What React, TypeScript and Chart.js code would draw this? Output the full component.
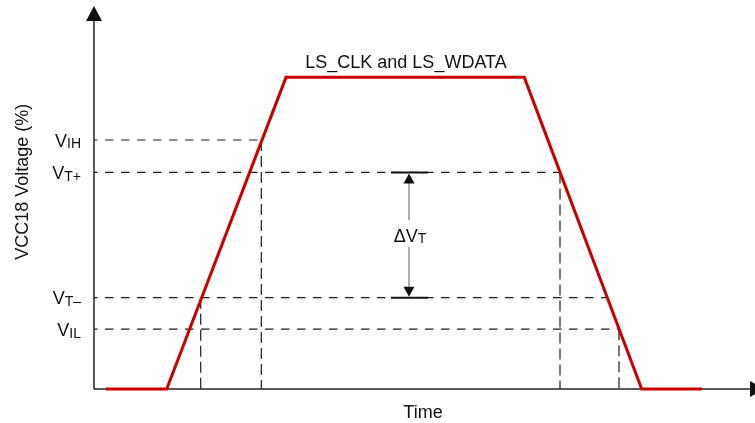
import React, { useEffect, useRef } from "react";
import { Chart, registerables } from "chart.js";

Chart.register(...registerables);

// Waveform (time in arbitrary units, voltage in % of VCC18)
const timePoints = [1.2, 7.27, 19.2, 43.03, 54.77, 60.77];
const voltagePct = [0, 0, 100, 100, 0, 0];

// Threshold levels
const thresholdMain = ["V", "V", "V", "V"];
const thresholdSub = ["IH", "T+", "T\u2013", "IL"];
const thresholdPct = [79.9, 69.5, 29.3, 19.2];
// where each horizontal dashed guide ends (time)
const thresholdEnd = [16.73, 46.6, 51.2, 52.5];
// vertical dashed guides: time and the level they drop from
const crossTime = [10.67, 16.73, 46.6, 52.5];
const crossPct = [29.3, 79.9, 69.5, 19.2];

// Hysteresis marker
const deltaTime = 31.5;
const deltaTickFrom = 29.7;
const deltaTickTo = 33.4;

const xMax = 66;
const yMax = 122.9;
const xAxisEnd = 65.6;
const yAxisEnd = 118.1;

const titleText = "LS_CLK and LS_WDATA";
const xTitle = "Time";
const yTitle = "VCC18 Voltage (%)";

const FONT = "'Liberation Sans', Arial, Helvetica, sans-serif";
const TXT = "#111";

export default function App() {
  const ref = useRef<HTMLCanvasElement | null>(null);
  useEffect(() => {
    if (!ref.current) return;
    const datasets: any[] = [];
    datasets.push({
      data: timePoints.map((t, i) => ({ x: t, y: voltagePct[i] })),
      showLine: true,
      borderColor: "#c80000",
      borderWidth: 3,
      pointRadius: 0,
      clip: false,
      borderJoinStyle: "miter",
    });
    thresholdPct.forEach((v, i) => {
      datasets.push({
        data: [
          { x: 0, y: v },
          { x: thresholdEnd[i], y: v },
        ],
        showLine: true,
        borderColor: "#1a1a1a",
        borderWidth: 1.2,
        borderDash: [8.5, 7.5],
        borderDashOffset: 5,
        pointRadius: 0,
        clip: false,
      });
    });
    crossTime.forEach((t, i) => {
      datasets.push({
        data: [
          { x: t, y: crossPct[i] },
          { x: t, y: 0 },
        ],
        showLine: true,
        borderColor: "#1a1a1a",
        borderWidth: 1.2,
        borderDash: [11, 5],
        pointRadius: 0,
        clip: false,
      });
    });
    [thresholdPct[1], thresholdPct[2]].forEach((v) => {
      datasets.push({
        data: [
          { x: deltaTickFrom, y: v },
          { x: deltaTickTo, y: v },
        ],
        showLine: true,
        borderColor: "#111",
        borderWidth: 2,
        pointRadius: 0,
        clip: false,
      });
    });
    // axes
    datasets.push({
      data: [
        { x: 0, y: 0 },
        { x: xAxisEnd, y: 0 },
      ],
      showLine: true,
      borderColor: "#222",
      borderWidth: 1.5,
      pointRadius: 0,
      clip: false,
    });
    datasets.push({
      data: [
        { x: 0, y: 0 },
        { x: 0, y: yAxisEnd },
      ],
      showLine: true,
      borderColor: "#222",
      borderWidth: 1.5,
      pointRadius: 0,
      clip: false,
    });

    const deco = {
      id: "deco",
      afterDatasetsDraw(chart: any) {
        const ctx = chart.ctx;
        const xs = chart.scales.x;
        const ys = chart.scales.y;
        ctx.save();
        // axis arrowheads
        ctx.fillStyle = "#111";
        const x0 = xs.getPixelForValue(0);
        const y0 = ys.getPixelForValue(0);
        const yTop = ys.getPixelForValue(yMax);
        const yBase = ys.getPixelForValue(yAxisEnd);
        ctx.beginPath();
        ctx.moveTo(x0, yTop);
        ctx.lineTo(x0 - 8, yBase);
        ctx.lineTo(x0 + 8, yBase);
        ctx.closePath();
        ctx.fill();
        const xBase = xs.getPixelForValue(xAxisEnd);
        ctx.beginPath();
        ctx.moveTo(xBase + 15, y0);
        ctx.lineTo(xBase, y0 - 8);
        ctx.lineTo(xBase, y0 + 8);
        ctx.closePath();
        ctx.fill();

        // delta arrow
        const ax = xs.getPixelForValue(deltaTime);
        const aTop = ys.getPixelForValue(thresholdPct[1]);
        const aBot = ys.getPixelForValue(thresholdPct[2]);
        const mid = (aTop + aBot) / 2;
        ctx.strokeStyle = "#777";
        ctx.lineWidth = 1.2;
        ctx.beginPath();
        ctx.moveTo(ax, aTop + 10);
        ctx.lineTo(ax, mid - 15);
        ctx.moveTo(ax, mid + 12);
        ctx.lineTo(ax, aBot - 10);
        ctx.stroke();
        ctx.fillStyle = "#111";
        ctx.beginPath();
        ctx.moveTo(ax, aTop + 1);
        ctx.lineTo(ax - 5.5, aTop + 11);
        ctx.lineTo(ax + 5.5, aTop + 11);
        ctx.closePath();
        ctx.fill();
        ctx.beginPath();
        ctx.moveTo(ax, aBot - 1);
        ctx.lineTo(ax - 5.5, aBot - 11);
        ctx.lineTo(ax + 5.5, aBot - 11);
        ctx.closePath();
        ctx.fill();

        // texts
        ctx.fillStyle = TXT;
        const drawSub = (main: string, sub: string, x: number, cy: number, align: string) => {
          ctx.font = `18px ${FONT}`;
          const wm = ctx.measureText(main).width;
          ctx.font = `14px ${FONT}`;
          const ws = ctx.measureText(sub).width;
          const total = wm + ws;
          let left = x;
          if (align === "right") left = x - total;
          else if (align === "center") left = x - total / 2;
          ctx.textAlign = "left";
          ctx.textBaseline = "alphabetic";
          ctx.font = `18px ${FONT}`;
          ctx.fillText(main, left, cy + 6.6);
          ctx.font = `14px ${FONT}`;
          ctx.fillText(sub, left + wm, cy + 8.4);
        };
        thresholdPct.forEach((v, i) => {
          drawSub(thresholdMain[i], thresholdSub[i], 81, ys.getPixelForValue(v), "right");
        });
        drawSub("\u0394V", "T", ax + 1, mid, "center");

        ctx.font = `18px ${FONT}`;
        ctx.textAlign = "center";
        ctx.textBaseline = "alphabetic";
        ctx.fillText(titleText, 406, 67.7);
        ctx.fillText(xTitle, 423, 418);
        ctx.translate(27.5, 181.7);
        ctx.rotate(-Math.PI / 2);
        ctx.fillText(yTitle, 0, 0);
        ctx.restore();
      },
    };

    const chart = new Chart(ref.current, {
      type: "scatter",
      data: { datasets },
      options: {
        animation: false,
        responsive: false,
        events: [],
        layout: { padding: { left: 94, top: 6, right: 1, bottom: 34 } },
        plugins: { legend: { display: false }, tooltip: { enabled: false } },
        scales: {
          x: { type: "linear", min: 0, max: xMax, display: false },
          y: { type: "linear", min: 0, max: yMax, display: false },
        },
      },
      plugins: [deco],
    });
    return () => chart.destroy();
  }, []);

  return (
    <div style={{ position: "fixed", left: 0, top: 0, width: 755, height: 423, background: "#fff" }}>
      <canvas ref={ref} width={755} height={423} style={{ display: "block" }} />
    </div>
  );
}
